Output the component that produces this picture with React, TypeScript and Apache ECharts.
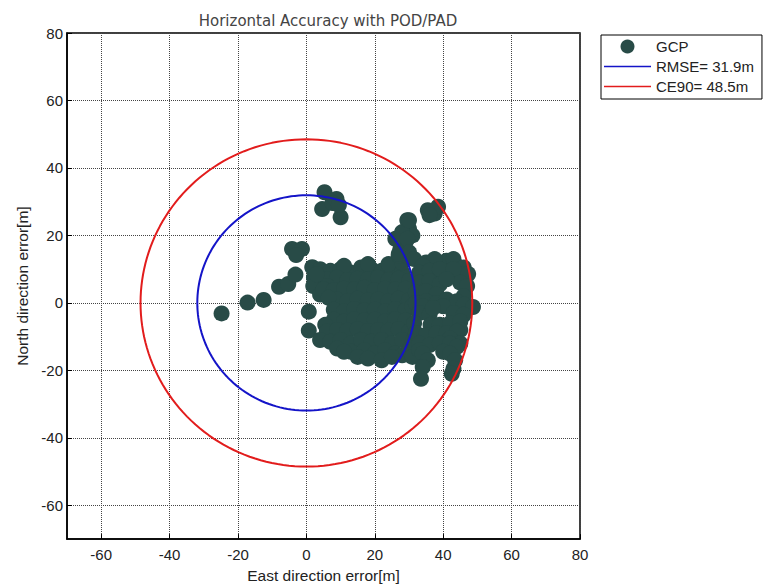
import React, { useEffect, useRef } from "react";
import * as echarts from "echarts";

const TITLE = "Horizontal Accuracy with POD/PAD";
const X_NAME = "East direction error[m]";
const Y_NAME = "North direction error[m]";
const TICKS = [-60, -40, -20, 0, 20, 40, 60, 80];
const RMSE = 31.9;
const CE90 = 48.5;

// GCP errors [east, north] in metres
const gcpSparse: number[][] = [
  [-24.8, -3.1], [-17.2, 0.1], [-12.5, 0.9], [-8, 4.8], [-5.3, 5.6], [-3.2, 8.4],
  [-4.2, 16], [-1.3, 16], [-3, 14.2], [0.7, -2.6], [0.7, -8.2],
  [5.3, 32.8], [8.8, 30.8], [4.6, 27.8], [10, 25.4], [7.6, 29.6], [9.5, 29],
  [1.7, 10.6], [2.2, 7.5],
];
const gcpMain: number[][] = [
  [4, 10], [7, 9.5], [10, 10], [13, 9], [16, 10.5], [19, 10], [22, 9.5], [25, 10], [28, 9],
  [18, 11.5], [24, 11.5], [11, 11],
  [3, 6.5], [6, 7], [9, 7.5], [12, 6.8], [15, 7.2], [18, 7], [21, 7.5], [24, 6.8], [27, 7.2], [30, 6.5],
  [2, 5], [4, 2.5], [6, 5], [3, 8.5],
  [5, 4], [8, 3.8], [11, 4.2], [14, 4], [17, 4.5], [20, 3.8], [23, 4.2], [26, 4], [29, 4.2],
  [9, 1], [12, 0.5], [15, 1.2], [18, 0.8], [21, 1], [24, 0.5], [27, 1.2], [30, 0.8], [6.5, 1.5],
  [8, -2], [11, -2.5], [14, -1.8], [17, -2.2], [20, -2], [23, -2.5], [26, -1.8], [29, -2.2], [31, -1],
  [8, -5], [11, -5.5], [14, -4.8], [17, -5.2], [20, -5], [23, -5.5], [26, -4.8], [29, -5.2], [5.5, -6.5],
  [6, -8.5], [9, -8], [12, -8.2], [15, -7.8], [18, -8.3], [21, -8], [24, -8.2], [27, -7.8], [30, -8.5],
  [4, -11], [7, -11.5], [10, -11], [13, -12], [16, -11], [19, -11.5], [22, -11], [25, -12], [28, -11], [31, -11.5],
  [9, -13.5], [13, -14.5], [17, -14], [20, -15], [23, -14], [26, -15], [11, -14.5], [15, -16], [28, -15.5],
  [18, -16.5], [22, -17], [25, -16], [30, -14], [31, -16],
];
const gcpColumn: number[][] = [
  [28, 12], [30, 13.5], [27.5, 16], [29, 18], [28, 20], [30, 22], [29.5, 24.5], [31, 20], [27, 14],
  [26, 19], [28, 21], [30, 24.5], [29.5, 19], [27, 14.5], [30, 15], [31.5, 13],
  [35.5, 27.5], [37.5, 26.5], [38.5, 28.5], [36, 26],
];
const gcpRight: number[][] = [
  [35, 12], [38, 11.5], [41, 12.5], [44, 11], [37.5, 13], [43, 13], [34, 11], [46, 10.5],
  [33, 9], [36, 9.5], [39, 8.5], [42, 9], [45, 8.5], [47.3, 8.6], [39, 10], [43, 10],
  [33, 6], [36, 6.5], [39, 5.5], [45, 6], [41, 7], [47, 5],
  [32, 3], [35, 3.5], [38, 2.5], [46, 2],
  [32, 0], [35, 0.5], [38, 0], [41, 1], [44, 0.5], [46, -0.5], [48.7, -1.2], [40, -1], [34, -1],
  [33, -3], [36, -3.5], [43, -3], [46, -3.5], [37, -1.5],
  [31.5, -6], [36.3, -6.5], [39, -6.5], [42, -6], [45, -5.5], [45, -8],
  [32, -9], [35, -9.5], [38, -9], [41, -9], [44, -8.5], [42, -10.5], [45, -12],
  [33, -12], [36, -12.5], [39, -12], [42, -12], [44, -13], [33, -14], [40, -14.5],
  [34, -15], [35.5, -17], [34, -19], [33.5, -22.5],
  [42, -15], [43.5, -17], [43, -19.5], [42.5, -21],
];
const gcp = [...gcpSparse, ...gcpMain, ...gcpColumn, ...gcpRight];

function circle(r: number): number[][] {
  const pts: number[][] = [];
  for (let a = 0; a <= 360; a += 2) {
    const t = (a * Math.PI) / 180;
    pts.push([r * Math.cos(t), r * Math.sin(t)]);
  }
  return pts;
}

const FONT = "Liberation Sans, Arial, sans-serif";
const LINE_ICON = "path://M0,0H47V1.6H0Z";

export default function App() {
  const ref = useRef<HTMLDivElement>(null);
  useEffect(() => {
    if (!ref.current) return;
    const chart = echarts.init(ref.current, undefined, { renderer: "svg" });
    const axisCommon = {
      type: "value" as const,
      min: -70,
      max: 80,
      nameLocation: "middle" as const,
      nameTextStyle: { fontFamily: FONT, fontSize: 15.5, color: "#222" },
      axisLine: { show: true, onZero: false, lineStyle: { color: "#000", width: 1.5 } },
      axisTick: { show: true, inside: true, length: 5, customValues: TICKS, lineStyle: { color: "#000" } },
      axisLabel: { customValues: TICKS, fontFamily: FONT, fontSize: 15, color: "#222" },
      splitLine: { show: true, lineStyle: { color: "#444", type: "dotted", width: 1 } },
    };
    chart.setOption({
      animation: false,
      backgroundColor: "#fff",
      title: {
        text: TITLE,
        left: 323,
        top: 8,
        textAlign: "center",
        textStyle: { fontFamily: "DejaVu Sans, sans-serif", fontSize: 15, fontWeight: "normal", color: "#444" },
      },
      legend: {
        orient: "vertical",
        left: 601,
        top: 35,
        padding: [4, 8, 5, 3],
        itemWidth: 47,
        itemHeight: 14,
        itemGap: 5,
        backgroundColor: "#fff",
        borderColor: "#000",
        borderWidth: 1,
        textStyle: { fontFamily: FONT, fontSize: 15, color: "#222" },
        data: [
          { name: "GCP", icon: "circle" },
          { name: `RMSE= ${RMSE}m`, icon: LINE_ICON },
          { name: `CE90= ${CE90}m`, icon: LINE_ICON },
        ],
      },
      grid: {
        left: 67,
        right: 191,
        top: 33,
        bottom: 45,
        show: true,
        borderColor: "#000",
        borderWidth: 1.5,
      },
      xAxis: { ...axisCommon, name: X_NAME, nameGap: 27, axisLabel: { ...axisCommon.axisLabel, margin: 8 } },
      yAxis: { ...axisCommon, name: Y_NAME, nameGap: 31, axisLabel: { ...axisCommon.axisLabel, margin: 4 } },
      series: [
        {
          name: "GCP",
          type: "scatter",
          data: gcp,
          symbol: "circle",
          symbolSize: 16,
          itemStyle: { color: "#284b47", opacity: 1 },
          z: 3,
        },
        {
          name: `RMSE= ${RMSE}m`,
          type: "line",
          data: circle(RMSE),
          showSymbol: false,
          symbol: "none",
          lineStyle: { color: "#1414c8", width: 2 },
          itemStyle: { color: "#1414c8" },
          z: 4,
        },
        {
          name: `CE90= ${CE90}m`,
          type: "line",
          data: circle(CE90),
          showSymbol: false,
          symbol: "none",
          lineStyle: { color: "#e21c1c", width: 2 },
          itemStyle: { color: "#e21c1c" },
          z: 4,
        },
      ],
    });
    return () => chart.dispose();
  }, []);
  return <div ref={ref} style={{ width: 771, height: 588, position: "absolute", left: 0, top: 0 }} />;
}
